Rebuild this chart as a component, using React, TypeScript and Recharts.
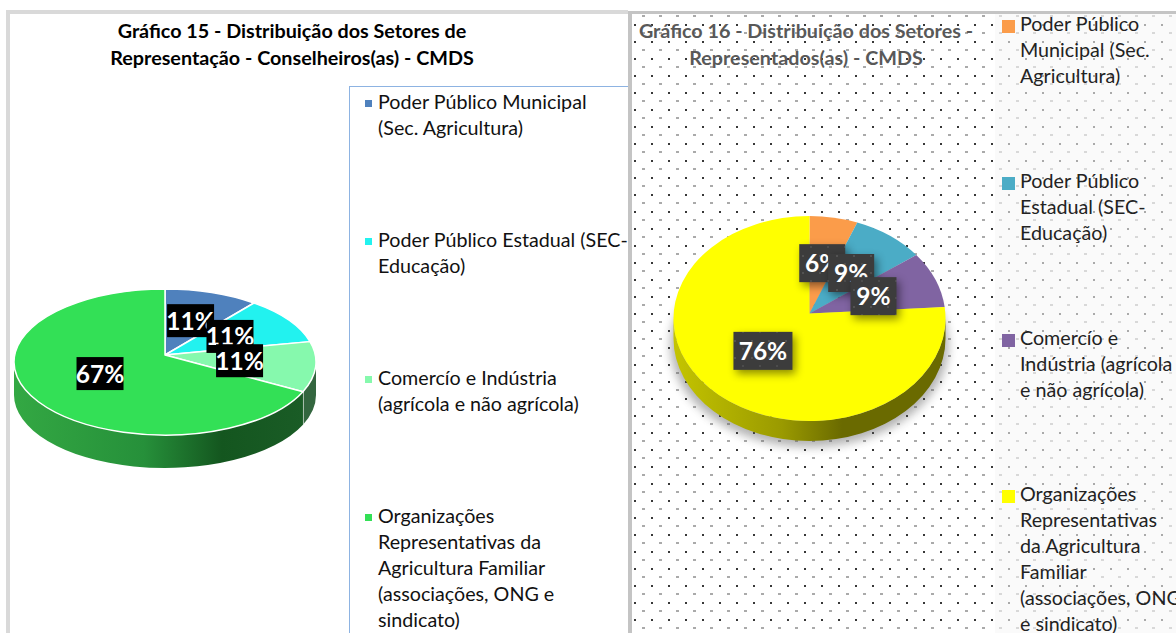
import React from 'react'
import { PieChart, Pie, Cell } from 'recharts'

const FONT = 'Lato, "Open Sans", sans-serif'

const leftTitle = ['Gráfico 15 - Distribuição dos Setores de', 'Representação - Conselheiros(as) - CMDS']
const rightTitle = ['Gráfico 16 - Distribuição dos Setores -', 'Representados(as) - CMDS']

const leftNames = [
  'Poder Público Municipal\n(Sec. Agricultura)',
  'Poder Público Estadual (SEC-\nEducação)',
  'Comercío e Indústria\n(agrícola e não agrícola)',
  'Organizações\nRepresentativas da\nAgricultura Familiar\n(associações, ONG e\nsindicato)',
]
const leftValues = [11, 11, 11, 67]
const leftColors = ['#4f81bd', '#22f2ef', '#86f9ad', '#33e056']
const leftWallColors = ['#2a4d75', '#159a98', '#33663f', 'url(#wallGreen)']

const rightNames = [
  'Poder Público\nMunicipal (Sec.\nAgricultura)',
  'Poder Público\nEstadual (SEC-\nEducação)',
  'Comercío e\nIndústria (agrícola\ne não agrícola)',
  'Organizações\nRepresentativas\nda Agricultura\nFamiliar\n(associações, ONG\ne sindicato)',
]
const rightValues = [6, 9, 9, 76]
const rightColors = ['#fb9c4a', '#4bacc6', '#8064a2', '#ffff00']
const rightWallColors = ['#a06030', '#2f7080', '#504070', 'url(#wallYellow)']

const leftLegendY = [103, 241, 379, 517]
const rightLegendY = [25, 182, 339, 495]

const toData = (names: string[], values: number[]) =>
  names.map((n, i) => ({ name: n, value: values[i] }))

const RAD = Math.PI / 180

// slice edges start at the tilted apex, not at the ellipse centre:
// turns a slice angle into the angle on the ellipse where that edge lands
function rimAngle(a: number, k: number) {
  const s = Math.sin(a * RAD)
  const c = Math.cos(a * RAD)
  const t = -k * s + Math.sqrt(k * k * s * s - k * k + 1)
  const e = Math.atan2(k + t * s, t * c) / RAD
  let delta = e - a
  while (delta > 180) delta -= 360
  while (delta < -180) delta += 360
  return a + delta
}

// recharts only draws circles, so the slices are flattened to an ellipse here
function topShape(ry: number, apexUp: number, strokeColor: string, strokeW: number) {
  return (p: any) => {
    const rx = p.outerRadius
    const k = apexUp / ry
    const pt = (a: number) => [p.cx + rx * Math.cos(a * RAD), p.cy - ry * Math.sin(a * RAD)]
    const a1 = rimAngle(p.startAngle, k)
    const a2 = rimAngle(p.endAngle, k)
    const [x1, y1] = pt(a1)
    const [x2, y2] = pt(a2)
    const large = Math.abs(a1 - a2) > 180 ? 1 : 0
    const d = `M${p.cx},${p.cy - apexUp} L${x1},${y1} A${rx},${ry} 0 ${large} 1 ${x2},${y2} Z`
    return <path d={d} fill={p.fill} stroke={strokeColor} strokeWidth={strokeW} strokeLinejoin="round" />
  }
}

function wallShape(ry: number, apexUp: number, depth: number, divider: string) {
  return (p: any) => {
    const rx = p.outerRadius
    const k = apexUp / ry
    const a1 = Math.min(rimAngle(p.startAngle, k), 0)
    const a2 = Math.max(rimAngle(p.endAngle, k), -180)
    if (a1 <= a2) return <g />
    const pt = (a: number) => [p.cx + rx * Math.cos(a * RAD), p.cy - ry * Math.sin(a * RAD)]
    const [x1, y1] = pt(a1)
    const [x2, y2] = pt(a2)
    const d = `M${x1},${y1} A${rx},${ry} 0 0 1 ${x2},${y2} L${x2},${y2 + depth} A${rx},${ry} 0 0 0 ${x1},${y1 + depth} Z`
    return (
      <g>
        <path d={d} fill={p.fill} />
        {a2 > -180 && <line x1={x2} y1={y2} x2={x2} y2={y2 + depth} stroke={divider} strokeWidth={1.2} />}
      </g>
    )
  }
}

function boxLabel(ry: number, apexUp: number, boxFill: string, w: number[], h: number, shadow: boolean) {
  return (p: any) => {
    const x = p.cx + p.outerRadius * 0.5 * Math.cos(p.midAngle * RAD)
    const y = p.cy - apexUp - ry * 0.5 * Math.sin(p.midAngle * RAD)
    const bw = w[p.index]
    return (
      <g>
        <rect
          x={x - bw / 2}
          y={y - h / 2}
          width={bw}
          height={h}
          fill={boxFill}
          style={shadow ? { filter: 'drop-shadow(3px 4px 4px rgba(0,0,0,.45))' } : undefined}
        />
        <text
          x={x}
          y={y + 9}
          textAnchor="middle"
          fill="#fff"
          fontFamily={FONT}
          fontWeight={700}
          fontSize={24.5}
        >
          {`${p.value}%`}
        </text>
      </g>
    )
  }
}

function Legend({ names, colors, ys, textX, markX, mark, color }: any) {
  return names.map((n: string, i: number) => (
    <React.Fragment key={n}>
      <div
        style={{
          position: 'absolute',
          left: markX,
          top: ys[i] - mark / 2 + (mark > 10 ? 1 : 0),
          width: mark,
          height: mark,
          background: colors[i],
        }}
      />
      <div
        style={{
          position: 'absolute',
          left: textX,
          top: ys[i] - 14,
          font: `19.7px/26px ${FONT}`,
          color,
          whiteSpace: 'pre',
        }}
      >
        {n}
      </div>
    </React.Fragment>
  ))
}

function Title({ lines, center, color }: any) {
  return (
    <div
      style={{
        position: 'absolute',
        left: center - 300,
        width: 600,
        top: 18,
        textAlign: 'center',
        font: `700 19.75px/26.5px ${FONT}`,
        color,
        whiteSpace: 'pre',
      }}
    >
      {lines.join('\n')}
    </div>
  )
}

const dots =
  "url(\"data:image/svg+xml,%3Csvg xmlns='http://www.w3.org/2000/svg' width='17' height='17'%3E%3Crect width='2' height='2' fill='%23383838'/%3E%3Crect x='8' y='8.5' width='3' height='1' fill='%23555'/%3E%3C/svg%3E\")"

export default function App() {
  const leftData = toData(leftNames, leftValues)
  const rightData = toData(rightNames, rightValues)

  return (
    <div style={{ position: 'fixed', left: 0, top: 0, width: 1176, height: 633, overflow: 'hidden', background: '#fff' }}>
      {/* panels */}
      <div style={{ position: 'absolute', left: 6, top: 10, width: 622, height: 4, background: '#d9d9d9' }} />
      <div style={{ position: 'absolute', left: 6, top: 10, width: 4, height: 623, background: '#d9d9d9' }} />
      <div
        style={{
          position: 'absolute',
          left: 632,
          top: 14,
          right: 0,
          bottom: 0,
          backgroundImage: dots,
          backgroundPosition: '2px 10px',
        }}
      />
      <div style={{ position: 'absolute', left: 995, top: 14, right: 0, bottom: 0, background: 'rgba(247,247,247,.6)' }} />
      <div style={{ position: 'absolute', left: 628, top: 11, right: 0, height: 3, background: '#c4c4c4' }} />
      <div style={{ position: 'absolute', left: 628, top: 11, width: 4, height: 622, background: '#c4c4c4' }} />
      <div
        style={{
          position: 'absolute',
          left: 349,
          top: 86,
          width: 279,
          height: 560,
          boxSizing: 'border-box',
          borderTop: '1px solid #8db3e2',
          borderLeft: '1px solid #8db3e2',
        }}
      />

      <Title lines={leftTitle} center={292} color="#000" />
      <Title lines={rightTitle} center={806} color="#595959" />

      <Legend names={leftNames} colors={leftColors} ys={leftLegendY} textX={378} markX={365} mark={7} color="#111" />
      <Legend names={rightNames} colors={rightColors} ys={rightLegendY} textX={1020} markX={1002} mark={13} color="#222" />

      <div style={{ position: 'absolute', left: 0, top: 0 }}>
        <PieChart width={630} height={633} margin={{ top: 0, right: 0, bottom: 0, left: 0 }}>
          <defs>
            <linearGradient id="wallGreen" x1="0" y1="0" x2="1" y2="0">
              <stop offset="0" stopColor="#33a843" />
              <stop offset="0.45" stopColor="#26903a" />
              <stop offset="0.72" stopColor="#14561f" />
              <stop offset="1" stopColor="#1a5c26" />
            </linearGradient>
          </defs>
          <Pie
            data={leftData}
            dataKey="value"
            cx={165}
            cy={362}
            outerRadius={151}
            startAngle={90}
            endAngle={-270}
            isAnimationActive={false}
            shape={wallShape(73, 7, 33, '#ffffff')}
          >
            {leftData.map((_, i) => <Cell key={i} fill={leftWallColors[i]} />)}
          </Pie>
          <Pie
            data={leftData}
            dataKey="value"
            cx={165}
            cy={362}
            outerRadius={151}
            startAngle={90}
            endAngle={-270}
            isAnimationActive={false}
            shape={topShape(73, 7, '#ffffff', 1.5)}
            labelLine={false}
            label={boxLabel(73, 7, '#000', [47, 47, 47, 47], 33, false)}
          >
            {leftData.map((_, i) => <Cell key={i} fill={leftColors[i]} />)}
          </Pie>
        </PieChart>
      </div>

      <div style={{ position: 'absolute', left: 632, top: 0 }}>
        <PieChart width={544} height={633} margin={{ top: 0, right: 0, bottom: 0, left: 0 }}>
          <defs>
            <linearGradient id="wallYellow" x1="0" y1="0" x2="1" y2="0">
              <stop offset="0" stopColor="#c4c400" />
              <stop offset="0.4" stopColor="#9a9a00" />
              <stop offset="0.62" stopColor="#6a6a00" />
              <stop offset="1" stopColor="#6a6a00" />
            </linearGradient>
            <pattern id="labelDots" width="17" height="17" patternUnits="userSpaceOnUse">
              <rect width="17" height="17" fill="#3c3c3c" />
              <rect width="2" height="2" fill="#525252" />
              <rect x="8" y="8" width="2" height="2" fill="#4c4c4c" />
            </pattern>
            <filter id="pieShadow" x="-10%" y="-30%" width="120%" height="170%">
              <feGaussianBlur stdDeviation="5" />
            </filter>
          </defs>
          <g filter="url(#pieShadow)" opacity={0.45}>
            <ellipse cx={177.5} cy={345} rx={139} ry={102} fill="#555" />
          </g>
          <Pie
            data={rightData}
            dataKey="value"
            cx={177.5}
            cy={318.5}
            outerRadius={136}
            startAngle={90}
            endAngle={-270}
            isAnimationActive={false}
            shape={wallShape(102.5, 5, 20, 'none')}
          >
            {rightData.map((_, i) => <Cell key={i} fill={rightWallColors[i]} />)}
          </Pie>
          <Pie
            data={rightData}
            dataKey="value"
            cx={177.5}
            cy={318.5}
            outerRadius={136}
            startAngle={90}
            endAngle={-270}
            isAnimationActive={false}
            shape={topShape(102.5, 5, 'none', 0)}
            labelLine={false}
            label={boxLabel(102.5, 5, 'url(#labelDots)', [46, 46, 46, 59], 38, true)}
          >
            {rightData.map((_, i) => <Cell key={i} fill={rightColors[i]} />)}
          </Pie>
        </PieChart>
      </div>
    </div>
  )
}
